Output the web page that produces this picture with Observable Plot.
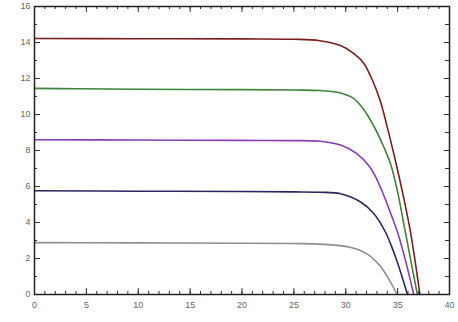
<!DOCTYPE html>
<html>
<head>
<meta charset="utf-8">
<script src="https://cdn.jsdelivr.net/npm/d3@7"></script>
<script src="https://cdn.jsdelivr.net/npm/@observablehq/plot@0.6"></script>
<style>
  html, body { margin: 0; padding: 0; background: #fff; }
  #chart svg { display: block; }
</style>
</head>
<body>
<div id="chart"></div>
<script>
// Series: voltage (x) and current (y)
const brownV  = [0, 10, 20, 25, 27.5, 29.5, 30.75, 31.7, 32.5, 33.3, 34.0, 34.8, 35.5, 36.2, 36.7, 37.15];
const brownI  = [14.22, 14.21, 14.2, 14.18, 14.1, 13.83, 13.4, 12.88, 12.0, 10.8, 9.3, 7.4, 5.6, 3.6, 1.8, 0];
const greenV  = [0, 4, 10, 20, 25, 27.5, 29.5, 30.75, 31.7, 32.8, 33.6, 34.35, 35.0, 35.6, 36.3, 36.9];
const greenI  = [11.45, 11.43, 11.4, 11.38, 11.36, 11.33, 11.2, 10.9, 10.3, 9.25, 8.28, 7.2, 5.7, 3.9, 1.8, 0];
const purpleV = [0, 10, 20, 25, 27.5, 29.5, 31.0, 32.3, 33.0, 33.6, 34.3, 35.0, 35.8, 36.55];
const purpleI = [8.6, 8.58, 8.56, 8.55, 8.51, 8.3, 7.85, 7.1, 6.4, 5.6, 4.55, 3.45, 1.8, 0];
const blueV   = [0, 10, 20, 25, 27.5, 29.5, 31.4, 32.7, 33.8, 34.4, 35.0, 35.95];
const blueI   = [5.76, 5.74, 5.72, 5.7, 5.68, 5.6, 5.15, 4.5, 3.5, 2.7, 1.75, 0];
const grayV   = [0, 10, 20, 25, 27.5, 30.4, 32.0, 33.3, 34.3, 34.95];
const grayI   = [2.88, 2.87, 2.85, 2.83, 2.8, 2.63, 2.27, 1.6, 0.7, 0];

const xTickLabels = [0, 5, 10, 15, 20, 25, 30, 35, 40];
const yTickLabels = [0, 2, 4, 6, 8, 10, 12, 14, 16];
const xMinorTicks = d3.range(0, 41, 1);
const yMinorTicks = d3.range(0, 17, 1);

const seriesDefs = [
  {name: "s1", V: brownV,  I: brownI,  color: "#7a1e1e"},
  {name: "s2", V: greenV,  I: greenI,  color: "#3d8538"},
  {name: "s3", V: purpleV, I: purpleI, color: "#8a3db3"},
  {name: "s4", V: blueV,   I: blueI,   color: "#28285e"},
  {name: "s5", V: grayV,   I: grayI,   color: "#8e8e8e"}
];
const rows = seriesDefs.flatMap(s => s.V.map((v, i) => ({series: s.name, v, i: s.I[i]})));

const W = 458, H = 322;
const mL = 34, mR = 9, mT = 6, mB = 28;
const iw = W - mL - mR, ih = H - mT - mB;

const plot = Plot.plot({
  width: W, height: H,
  marginLeft: mL, marginRight: mR, marginTop: mT, marginBottom: mB,
  style: {fontFamily: "'Liberation Sans', Arial, sans-serif", fontSize: "9px", background: "#fff"},
  x: {domain: [0, 40]},
  y: {domain: [0, 16]},
  color: {type: "ordinal", domain: seriesDefs.map(s => s.name), range: seriesDefs.map(s => s.color)},
  marks: [
    // inward minor ticks
    Plot.tickX(xMinorTicks, {x: d => d, insetTop: ih - 3, stroke: "#333"}),
    Plot.tickX(xMinorTicks, {x: d => d, insetBottom: ih - 3, stroke: "#333"}),
    Plot.tickY(yMinorTicks, {y: d => d, insetRight: iw - 3, stroke: "#333"}),
    Plot.tickY(yMinorTicks, {y: d => d, insetLeft: iw - 4, stroke: "#333"}),
    // inward major ticks
    Plot.tickX(xTickLabels, {x: d => d, insetTop: ih - 6, stroke: "#333"}),
    Plot.tickX(xTickLabels, {x: d => d, insetBottom: ih - 6, stroke: "#333"}),
    Plot.tickY(yTickLabels, {y: d => d, insetRight: iw - 6, stroke: "#333"}),
    Plot.tickY(yTickLabels, {y: d => d, insetLeft: iw - 5, stroke: "#333"}),
    Plot.axisX({anchor: "bottom", ticks: xTickLabels, tickSize: 0, tickPadding: 7, label: null, fill: "#666"}),
    Plot.axisY({anchor: "left", ticks: yTickLabels, tickSize: 0, tickPadding: 4, label: null, fill: "#666"}),
    Plot.line(rows, {x: "v", y: "i", z: "series", stroke: "series", strokeWidth: 1.6, curve: "catmull-rom"}),
    Plot.frame({stroke: "#222", strokeWidth: 1.5})
  ]
});
document.getElementById("chart").append(plot);
</script>
</body>
</html>
